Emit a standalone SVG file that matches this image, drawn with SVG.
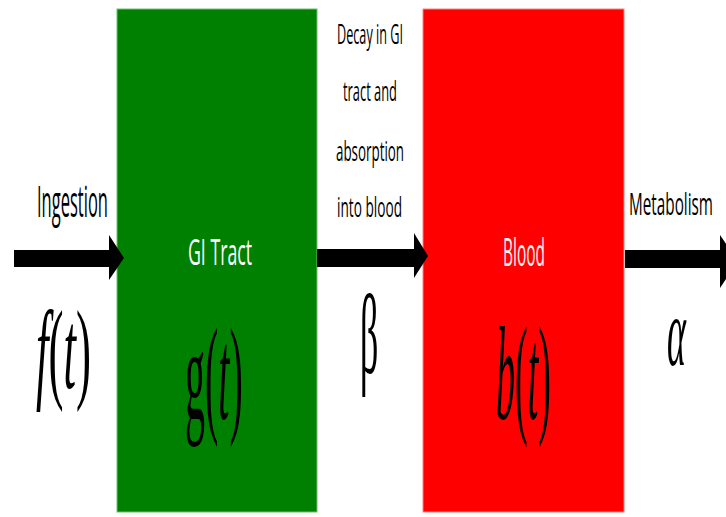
<svg xmlns="http://www.w3.org/2000/svg" width="726" height="517" viewBox="0 0 726 517">
<style>
.lbl{font-family:"Open Sans","Liberation Sans",sans-serif;fill:#000}
.box-lbl{font-family:"Open Sans","Liberation Sans",sans-serif;fill:#fff}
.math{font-family:"Liberation Serif","DejaVu Serif",serif;fill:#000}
.arrow{fill:#000}
</style>
<rect width="726" height="517" fill="#fff"/>
<g id="gi-tract">
<rect x="117" y="9" width="200" height="503" fill="#008000" stroke="#6fbf6f" stroke-width="1"/>
<text class="box-lbl" x="188" y="265" font-size="37" textLength="64" lengthAdjust="spacingAndGlyphs">GI Tract</text>
<text class="math" transform="translate(185,419) scale(1,3.3)" font-size="40">g(<tspan font-style="italic">t</tspan>)</text>
</g>
<g id="blood">
<rect x="423" y="9" width="201" height="503" fill="#ff0000" stroke="#ff8080" stroke-width="1"/>
<text class="box-lbl" x="503" y="266" font-size="38" textLength="42" lengthAdjust="spacingAndGlyphs" style="fill:#fff0f0">Blood</text>
<text class="math" transform="translate(496,419) scale(1,3.5)" font-size="38"><tspan font-style="italic">b</tspan>(<tspan font-style="italic">t</tspan>)</text>
</g>
<g id="connectors">
<g id="ingestion">
<polygon class="arrow" points="14,250 109,250 109,235 124,258 109,280 109,267 14,267"/>
<text class="lbl" x="37" y="217" font-size="43" textLength="71" lengthAdjust="spacingAndGlyphs">Ingestion</text>
<text class="math" transform="translate(36,388) scale(1,2.5)" font-size="45"><tspan font-style="italic">f</tspan>(<tspan font-style="italic">t</tspan>)</text>
</g>
<g id="absorption">
<polygon class="arrow" points="317,249 414,249 414,233 428,256 414,278 414,267 317,267"/>
<text class="lbl" x="337" y="44" font-size="27" textLength="66" lengthAdjust="spacingAndGlyphs">Decay in GI</text>
<text class="lbl" x="343" y="101" font-size="27" textLength="54" lengthAdjust="spacingAndGlyphs">tract and</text>
<text class="lbl" x="336" y="161" font-size="27" textLength="68" lengthAdjust="spacingAndGlyphs">absorption</text>
<text class="lbl" x="337" y="217" font-size="27" textLength="65" lengthAdjust="spacingAndGlyphs">into blood</text>
<text class="math" transform="translate(360,373) scale(1,3.2)" font-size="36">β</text>
</g>
<g id="metabolism">
<polygon class="arrow" points="625,250 720,250 720,235 738,261 720,288 720,268 625,268"/>
<text class="lbl" x="629" y="215" font-size="31" textLength="84" lengthAdjust="spacingAndGlyphs">Metabolism</text>
<text class="math" font-style="italic" transform="translate(667,365) scale(1,2.7)" font-size="36">α</text>
</g>
</g>
</svg>
